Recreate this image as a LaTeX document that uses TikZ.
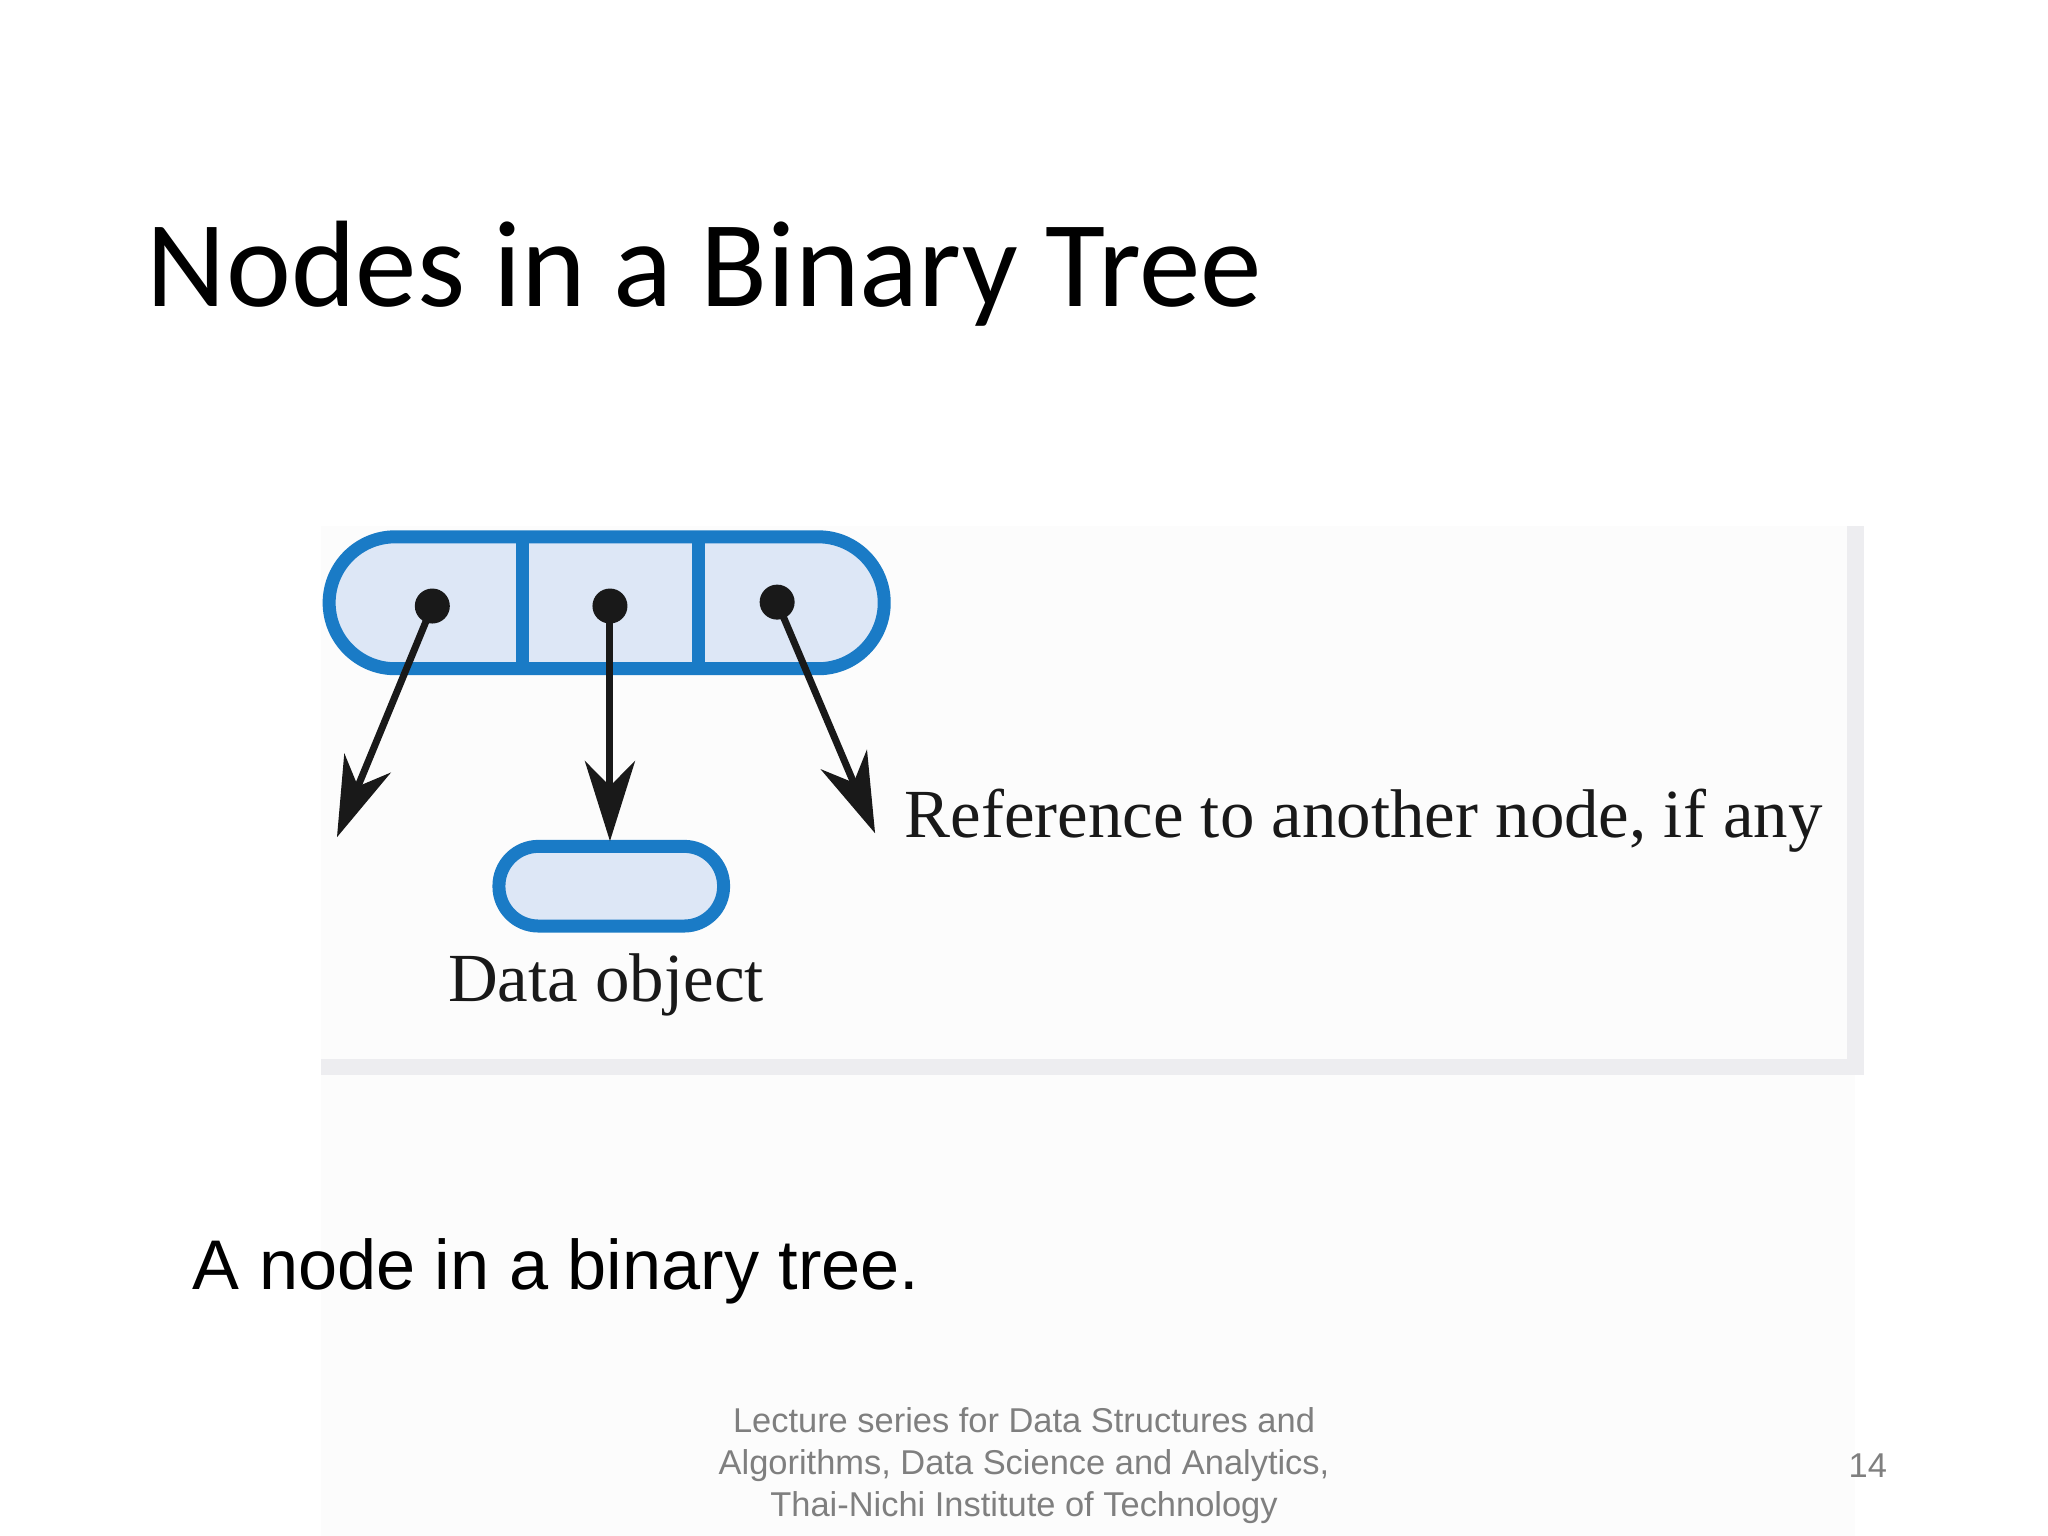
\documentclass[tikz,border=0pt]{standalone}
\usepackage{fontspec}
\setmainfont{Liberation Serif}
\newfontfamily\titlefont{Carlito}
\newfontfamily\arialfont{Liberation Sans}
\usepackage{tikz}
\usetikzlibrary{arrows.meta}

\definecolor{cellfill}{HTML}{DDE7F6}
\definecolor{celldraw}{HTML}{1A7BC6}
\definecolor{framegray}{HTML}{EDEDF0}
\definecolor{footgray}{HTML}{7F7F7F}

\tikzset{
  capsule/.style={fill=cellfill, draw=celldraw, line width=1.3mm},
  refdot/.style={circle, fill=black!90, inner sep=0pt, minimum size=3.5mm},
  refarrow/.style={line width=0.7mm, black!90, -{Stealth[length=8mm, width=5mm, inset=2.5mm]}, shorten <=-1mm},
  booklabel/.style={font=\fontsize{19.6}{24}\selectfont, text=black!90}
}

\begin{document}
\begin{tikzpicture}[x=0.01306cm, y=-0.01306cm]

\useasboundingbox[fill=white] (0,0) rectangle (1568,1176);

% figure frame
\fill[black!1] (246,403) rectangle (1420,1176);
\fill[framegray] (246,811) rectangle (1427,823);
\fill[framegray] (1414,403) rectangle (1427,823);

\node[anchor=base west, inner sep=0pt, font=\titlefont\fontsize{35}{42}\selectfont] (title) at (112,235) {Nodes in a Binary Tree};

% the node with three cells
\draw[capsule, rounded corners=0.66cm] (252,411) rectangle (677,512);
\draw[celldraw, line width=1.3mm] (400,411) -- (400,512);
\draw[celldraw, line width=1.3mm] (535,411) -- (535,512);

\node[refdot] (left) at (331,464) {};
\node[refdot] (data) at (467,464) {};
\node[refdot] (right) at (595,461) {};

\coordinate (lefttip) at (258,641);
\coordinate (righttip) at (670,638);

% data object
\draw[capsule, rounded corners=0.395cm] (382,648) rectangle (554,709);
\coordinate (datatop) at (467,644);

\draw[refarrow] (left.center) -- (lefttip);
\draw[refarrow] (data.center) -- (datatop);
\draw[refarrow] (right.center) -- (righttip);

\node[booklabel, anchor=base] (datalabel) at (464,767) {Data object};
\node[booklabel, anchor=base west, inner sep=0pt] (reflabel) at (692,641) {Reference to another node, if any};

\node[anchor=base west, inner sep=0pt, font=\arialfont\fontsize{20}{24}\selectfont] (caption) at (147,987) {A node in a binary tree.};

\node[align=center, text=footgray, font=\arialfont\fontsize{9.8}{11.9}\selectfont] (footer) at (784,1122)
  {Lecture series for Data Structures and\\Algorithms, Data Science and Analytics,\\Thai-Nichi Institute of Technology};
\node[text=footgray, font=\arialfont\fontsize{9.8}{12}\selectfont] (page) at (1430,1122) {14};

\end{tikzpicture}
\end{document}
